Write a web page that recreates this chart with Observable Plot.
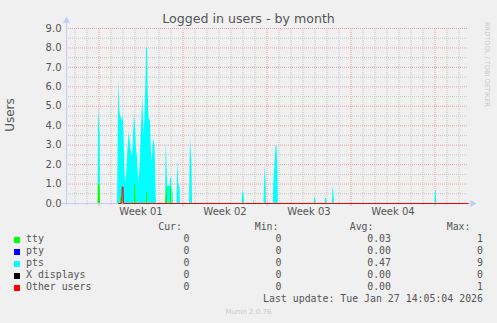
<!DOCTYPE html>
<html><head><meta charset="utf-8">
<script src="https://cdn.jsdelivr.net/npm/d3@7"></script>
<script src="https://cdn.jsdelivr.net/npm/@observablehq/plot@0.6"></script>
<style>
html,body{margin:0;padding:0;background:#f0f0f0;}
#wrap{position:relative;width:497px;height:323px;overflow:hidden;background:#f0f0f0;font-family:"DejaVu Sans",sans-serif;color:#555;}
#chart{position:absolute;left:0;top:0;}
#title{position:absolute;left:0;width:497px;top:11px;text-align:center;font-size:12.6px;line-height:16px;color:#555;}
#brand{position:absolute;left:483px;top:22px;writing-mode:vertical-rl;font-size:6.6px;color:#c8c8c8;line-height:8px;white-space:nowrap;}
.leg{position:absolute;font-family:"DejaVu Sans Mono",monospace;font-size:9.9px;line-height:12px;white-space:pre;color:#555;}
.sw{position:absolute;width:6px;height:6px;}
#munin{position:absolute;left:0;width:497px;top:308px;text-align:center;font-size:7px;line-height:9px;color:#c8c8c8;}
</style></head>
<body><div id="wrap"><div id="chart"></div><div id="title">Logged in users - by month</div><div id="brand">RRDTOOL / TOBI OETIKER</div><div id="munin">Munin 2.0.76</div></div>
<script>
// ---- data (x in hours from start of Week 01, Mon 2025-12-29 00:00) ----
const names  = ["tty", "pty", "pts", "X displays", "Other users"];
const colors = ["#00ff00", "#0000ff", "#00ffff", "#000000", "#ff0000"];
const curVals = ["0", "0", "0", "0", "0"];
const minVals = ["0", "0", "0", "0", "0"];
const avgVals = ["0.03", "0.00", "0.47", "0.00", "0.00"];
const maxVals = ["1", "0", "9", "0", "1"];
const lastUpdate = "Last update: Tue Jan 27 14:05:04 2026";

const hours = [
  -2, -1, 2.4, 3,
  37, 39.6, 41.6, 43, 45, 46.4, 48.4, 50, 52, 54, 56, 58, 60.4, 63, 66, 68, 70.6, 71, 73.6, 74.6, 77, 79.6, 82, 85, 87.6, 90, 92, 94.6, 95, 97, 98, 100, 103, 104.6, 106.6, 109, 112, 114, 115,
  133, 134.6, 136.6, 137.4, 141, 142.6, 143, 145.4, 146.2, 148, 149,
  156, 157.6, 159.6, 162, 163,
  181, 183, 186, 187,
  286, 287.6, 290, 291,
  309, 310, 311,
  330, 332, 334, 335,
  348.6, 350, 354, 356, 357.6, 358.6,
  430, 431.6, 433.6, 434.6,
  452, 453, 455.6, 456.6,
  466.6, 468, 469.6, 470.6,
  672, 673, 674.6, 675.6,
  738
];
const tty = [
  0, 1, 1, 0,
  0, 0, 0, 0.3, 0.3, 0, 0, 0, 0, 0, 0, 0, 0, 0, 0, 0, 0, 1, 0.9, 0, 0, 0, 0, 0, 0, 0, 0, 0, 0.6, 0.6, 0, 0, 0, 0, 0, 0, 0, 0, 0,
  0, 0.9, 0.9, 0, 0, 0, 0.9, 0.9, 0, 0, 0,
  0, 0, 0, 0, 0,
  0, 0, 0, 0,
  0, 0, 0, 0,
  0, 0, 0,
  0, 0, 0, 0,
  0, 0, 0, 0, 0, 0,
  0, 0, 0, 0,
  0, 0, 0, 0,
  0, 0, 0, 0,
  0, 0, 0, 0,
  0
];
const pts = [
  0, 3.9, 2.5, 0,
  0, 6.4, 4.8, 4.2, 4.1, 4.2, 4.5, 3.5, 1.5, 1.0, 1.8, 2.8, 3.7, 3.0, 2.4, 2.8, 4.4, 3.6, 2.8, 3.0, 2.3, 1.0, 1.8, 4.0, 5.4, 3.5, 4.5, 7.0, 7.4, 7.4, 6.0, 4.4, 4.2, 2.7, 2.2, 3.3, 3.0, 0.8, 0,
  0, 2.3, 0.6, 0.9, 0.9, 0.9, 0.4, 0.4, 0.8, 0.6, 0,
  0, 2.2, 1.0, 0.8, 0,
  0, 3.3, 2.0, 0,
  0, 0.65, 0.5, 0,
  0, 0.2, 0,
  0, 1.9, 1.2, 0,
  0, 1.2, 2.9, 3.0, 2.0, 0,
  0, 0.3, 0.2, 0,
  0, 0.3, 0.2, 0,
  0, 0.85, 0.6, 0,
  0, 0.65, 0.6, 0,
  0
];
const otherHours = [39, 45.4, 46.4, 48, 49, 738];
const otherVals  = [0, 0, 0.85, 0.85, 0, 0];

const weekStarts   = [0, 168, 336, 504, 672];
const weekLabelPos = [84, 252, 420, 588];
const weekLabels   = ["Week 01", "Week 02", "Week 03", "Week 04"];
const yMajor = [0, 1, 2, 3, 4, 5, 6, 7, 8, 9];
const yMinor = [0.5, 1.5, 2.5, 3.5, 4.5, 5.5, 6.5, 7.5, 8.5];
const xDomain = [-65, 739];
const yDomain = [0, 9];

// ---- build ----
const dayLines = d3.range(-48, xDomain[1], 24).filter(h => h % 168 !== 0);
const rows = hours.flatMap((h, i) => [
  {h, s: "tty", v: tty[i]},
  {h, s: "pts", v: pts[i]}
]);
const other = otherHours.map((h, i) => ({h, v: otherVals[i]}));
const axisCol = "#c8c8f8";
const gridCol = "#c8c8c8";
const mgridCol = "#f0a6a6";

const chart = Plot.plot({
  width: 497, height: 223,
  marginTop: 28, marginBottom: 20, marginLeft: 66, marginRight: 29,
  style: {background: "transparent", fontFamily: "DejaVu Sans", fontSize: "10px", color: "#555"},
  x: {domain: xDomain, axis: null},
  y: {domain: yDomain, axis: null},
  color: {domain: names, range: colors},
  marks: [
    Plot.ruleY(yMinor, {stroke: gridCol, strokeDasharray: "1,1"}),
    Plot.ruleX(dayLines, {stroke: gridCol, strokeDasharray: "1,1"}),
    Plot.ruleY(yMajor.slice(1), {stroke: mgridCol, strokeDasharray: "1,1"}),
    Plot.ruleX(weekStarts, {stroke: mgridCol, strokeDasharray: "1,1"}),
    Plot.areaY(rows, Plot.stackY({x: "h", y: "v", fill: "s", curve: "linear"})),
    Plot.ruleY([0], {x1: xDomain[0] - 8, x2: xDomain[1] + 4, stroke: axisCol}),
    Plot.ruleX([xDomain[0]], {y1: -0.1, y2: 9.3, stroke: axisCol}),
    Plot.dot([0], {x: xDomain[0], y: 9.4, symbol: "triangle", r: 2.6, fill: axisCol, stroke: null}),
    Plot.dot([0], {x: xDomain[1] + 8, y: 0, symbol: "triangle", r: 2.6, fill: axisCol, stroke: null, rotate: 90}),
    Plot.axisX({ticks: dayLines, tickSize: 2, tickFormat: () => "", stroke: axisCol, label: null}),
    Plot.axisX({ticks: weekStarts, tickSize: 3, tickFormat: () => "", stroke: mgridCol, label: null}),
    Plot.lineY(other, {x: "h", y: "v", stroke: "#ff0000", strokeWidth: 1}),
    Plot.axisX({ticks: weekLabelPos, tickSize: 0, tickPadding: 4, tickFormat: d => weekLabels[weekLabelPos.indexOf(d)], fill: "#555", fontSize: 10, label: null}),
    Plot.axisY({ticks: yMajor, tickSize: 0, tickPadding: 5, tickFormat: d3.format(".1f"), fill: "#555", fontSize: 10, label: null}),
    Plot.text(["Users"], {frameAnchor: "left", textAnchor: "middle", rotate: -90, dx: -56, dy: -1, fontSize: 12, fill: "#555", lineAnchor: "middle"})
  ]
});
document.getElementById("chart").appendChild(chart);

// ---- legend ----
const wrap = document.getElementById("wrap");
function put(text, opts) {
  const d = document.createElement("div");
  d.className = "leg";
  d.textContent = text;
  Object.assign(d.style, opts);
  wrap.appendChild(d);
}
const headers = ["Cur:", "Min:", "Avg:", "Max:"];
const headerRight = [182, 278.5, 373.5, 470.5];
const valRight = [189.5, 281.5, 391, 483];
headers.forEach((t, i) => put(t, {right: (497 - headerRight[i]) + "px", top: "221px"}));
const cols = [curVals, minVals, avgVals, maxVals];
names.forEach((n, r) => {
  const top = 233 + r * 12;
  const sw = document.createElement("div");
  sw.className = "sw";
  Object.assign(sw.style, {left: "14px", top: (top + 4) + "px", background: colors[r]});
  wrap.appendChild(sw);
  put(n, {left: "26px", top: top + "px"});
  cols.forEach((c, j) => put(c[r], {right: (497 - valRight[j]) + "px", top: top + "px"}));
});
put(lastUpdate, {right: (497 - 483) + "px", top: "293px"});
</script>
</body></html>
